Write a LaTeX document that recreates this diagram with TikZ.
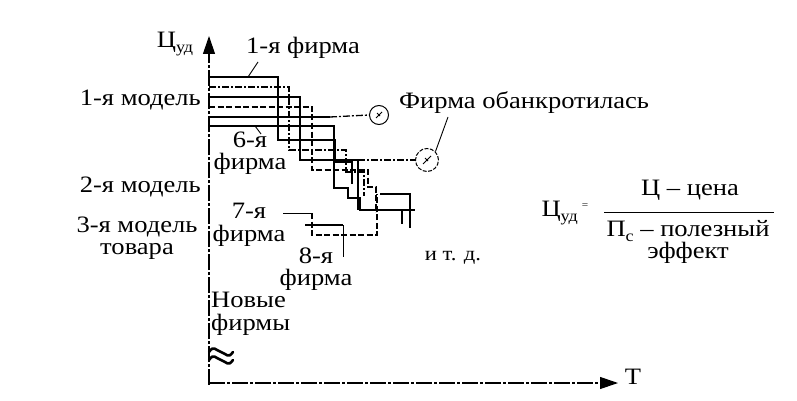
\documentclass[tikz,border=0pt]{standalone}
\usepackage{fontspec}
\setmainfont{Liberation Serif}[FakeStretch=1.13]
\usetikzlibrary{arrows.meta}
\newcommand{\mysub}[1]{\raisebox{-0.45ex}{\fontsize{16}{16}\selectfont #1}}
\begin{document}
\begin{tikzpicture}[x=1pt,y=-1pt,
  lab/.style={font=\fontsize{23.5}{22.5}\selectfont, inner sep=0pt},
  axisline/.style={line width=1.1pt, dash pattern=on 16pt off 2pt on 3pt off 2pt},
  fsolid/.style={line width=1.4pt},
  fthick/.style={line width=2pt},
  fdashdot/.style={line width=1.3pt, dash pattern=on 7pt off 2pt on 2pt off 2pt},
  fdash/.style={line width=1.3pt, dash pattern=on 6pt off 2.5pt},
  leader/.style={line width=0.9pt},
  bank/.style={circle, draw, line width=1pt, inner sep=0pt}
]
\useasboundingbox (0,0) rectangle (797,401);
\fill[white] (0,0) rectangle (797,401);

% axes
\coordinate (o) at (209,385);
\coordinate (ytip) at (209,36);
\coordinate (xo) at (209,383);
\coordinate (xtip) at (618,383);
\draw[axisline, -{Triangle[length=18pt,width=12pt]}] (o) -- (ytip);
\draw[axisline, -{Triangle[length=18pt,width=12pt]}] (xo) -- (xtip);
% axis break mark
\coordinate (brk) at (221,354);
\draw[line width=2.6pt, line cap=round] (brk) ++(-12,-2) .. controls +(5,-7) and +(-6,-2) .. ++(12,0) .. controls +(6,2) and +(-5,7) .. ++(12,0);
\draw[line width=2.6pt, line cap=round] (brk) ++(-12,6) .. controls +(5,-7) and +(-6,-2) .. ++(12,0) .. controls +(6,2) and +(-5,7) .. ++(12,0);

\node[lab] (ylab) at (175,44) {Ц\mysub{уд}};
\node[lab] (tlab) at (633,377) {T};

% left labels
\node[lab, anchor=east] (m1) at (201,100) {1-я модель};
\node[lab, anchor=east] (m2) at (201,187) {2-я модель};
\node[lab, align=center] (m3) at (137,238) {3-я модель\\товара};

% firm labels
\node[lab] (f1) at (303,48) {1-я фирма};
\node[lab, align=center] (f6) at (250,153) {6-я\\фирма};
\node[lab, align=center] (f7) at (249,225) {7-я\\фирма};
\node[lab, align=center] (f8) at (316,269) {8-я\\фирма};
\node[lab, align=left, anchor=west] (nf) at (211,314) {Новые\\фирмы};
\node[font=\fontsize{20}{20}\selectfont, inner sep=0pt] (etc) at (453,258) {и т. д.};
\node[lab, anchor=west] (bk) at (399,103) {Фирма обанкротилась};

% bankrupt circles
\node[bank, minimum size=19pt] (c1) at (379,115) {};
\node[bank, minimum size=23pt, dash pattern=on 4pt off 1.5pt] (c2) at (427,160) {};
\draw[leader] (c1.center) ++(-3,3) -- ++(6,-6);
\draw[leader] (c1.center) ++(-2,-2) -- ++(3,3);
\draw[leader] (c2.center) ++(-4,4) -- ++(8,-8);
\draw[leader] (c2.center) ++(-2,-2) -- ++(3,3);

% staircases
\draw[fsolid] (209,77) -- (278,77) -- (278,140) -- (335,140) -- (335,162) -- (352,162) -- (352,184);
\draw[fdashdot] (209,87) -- (289,87) -- (289,150) -- (346,150) -- (346,172) -- (364,172) -- (364,196);
\draw[fsolid] (209,97) -- (300,97) -- (300,160) -- (358,160);
\coordinate (b2) at (358,160);
\draw[fdashdot] (b2) -- (c2.west);
\draw[fdash] (209,107) -- (312,107) -- (312,170) -- (368,170) -- (368,187) -- (376,187) -- (376,212);
\coordinate (b1) at (330,117);
\draw[fsolid] (209,117) -- (b1);
\draw[fdashdot] (b1) -- (c1.west);
\draw[fthick] (209,126) -- (334,126) -- (334,188) -- (348,188) -- (348,198) -- (360,198) -- (360,210) -- (402,210) -- (402,222);
\draw[fsolid] (358,160) -- (358,210);
\draw[fsolid] (380,194) -- (410,194) -- (410,228);
\draw[fdash] (402,210) -- (402,224);
\draw[fsolid] (397,210) -- (415,210);

% leaders to labels
\coordinate (l1a) at (258,62);
\coordinate (l1b) at (248,77);
\draw[leader] (l1a) -- (l1b);
\coordinate (l6a) at (255,126);
\coordinate (l6b) at (261,134);
\draw[leader] (l6a) -- (l6b);
\coordinate (lbk) at (448,117);
\draw[leader] (lbk) -- (c2.north east);

% 7th and 8th firms
\coordinate (l7a) at (283,213);
\coordinate (l7b) at (312,213);
\draw[leader] (l7a) -- (l7b);
\draw[fdash] (l7b) -- (312,235) -- (377,235) -- (377,194);
\coordinate (f8a) at (305,225);
\coordinate (f8b) at (343,225);
\coordinate (f8c) at (343,257);
\draw[fthick] (f8a) -- (f8b);
\draw[leader] (f8b) -- (f8c);

% formula
\node[lab, anchor=east] (fl) at (578,213) {Ц\mysub{уд}};
\node[font=\fontsize{10}{10}\selectfont, inner sep=0pt] (eq) at (585,206) {=};
\node[lab] (num) at (690,190) {Ц – цена};
\coordinate (frl) at (604,212);
\coordinate (frr) at (774,212);
\draw[line width=0.9pt] (frl) -- (frr);
\node[lab, align=center] (den) at (688,242) {П\mysub{с} – полезный\\эффект};
\end{tikzpicture}
\end{document}
